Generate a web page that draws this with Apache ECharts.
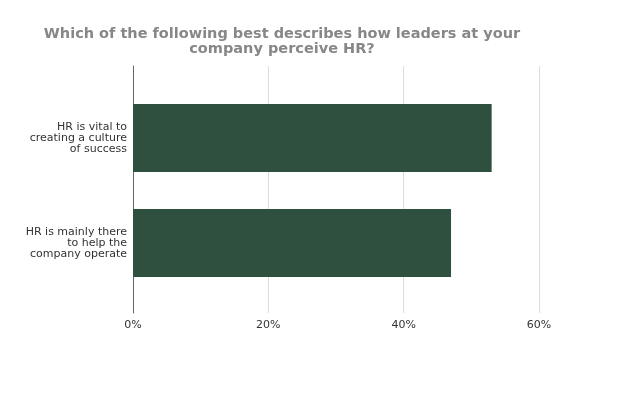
<!DOCTYPE html>
<html>
<head>
<meta charset="utf-8">
<script src="https://cdn.jsdelivr.net/npm/echarts@6/dist/echarts.min.js"></script>
<style>html,body{margin:0;padding:0;background:#fff}#c{width:638px;height:400px}</style>
</head>
<body>
<div id="c"></div>
<script>
var categories = ['HR is vital to\ncreating a culture\nof success', 'HR is mainly there\nto help the\ncompany operate'];
var values = [53, 47];
var tickMax = 60;
var tickInterval = 20;

var chart = echarts.init(document.getElementById('c'), null, {renderer: 'canvas'});
var fontFam = '"DejaVu Sans", Verdana, sans-serif';
chart.setOption({
  animation: false,
  title: {
    text: 'Which of the following best describes how leaders at your\ncompany perceive HR?',
    left: 277,
    top: 22,
    textAlign: 'center',
    textStyle: {fontFamily: fontFam, fontSize: 14.5, fontWeight: 'bold', color: '#878787', lineHeight: 15}
  },
  grid: [
    {left: 133, right: 99, top: 85.5, height: 210},
    {left: 133, right: 99, top: 66, height: 247}
  ],
  xAxis: [
    {gridIndex: 0, type: 'value', min: 0, max: tickMax, interval: tickInterval, show: false},
    {gridIndex: 1, type: 'value', min: 0, max: tickMax, interval: tickInterval,
     axisLine: {show: false}, axisTick: {show: false},
     splitLine: {show: true, lineStyle: {color: '#dcdcdc', width: 1}},
     axisLabel: {formatter: '{value}%', color: '#333', fontFamily: fontFam, fontSize: 11, margin: 7}}
  ],
  yAxis: [
    {gridIndex: 0, type: 'category', data: categories, inverse: true,
     axisLine: {show: false}, axisTick: {show: false},
     axisLabel: {color: '#333', fontFamily: fontFam, fontSize: 11, lineHeight: 11, margin: 6, align: 'right'}},
    {gridIndex: 1, type: 'category', data: ['', ''], inverse: true,
     axisLine: {show: true, onZero: false, lineStyle: {color: '#666', width: 1}},
     axisTick: {show: false}, axisLabel: {show: false}}
  ],
  series: [{
    type: 'bar', xAxisIndex: 0, yAxisIndex: 0,
    data: values, barWidth: 68,
    itemStyle: {color: '#2f4f3f'}
  }]
});
</script>
</body>
</html>
